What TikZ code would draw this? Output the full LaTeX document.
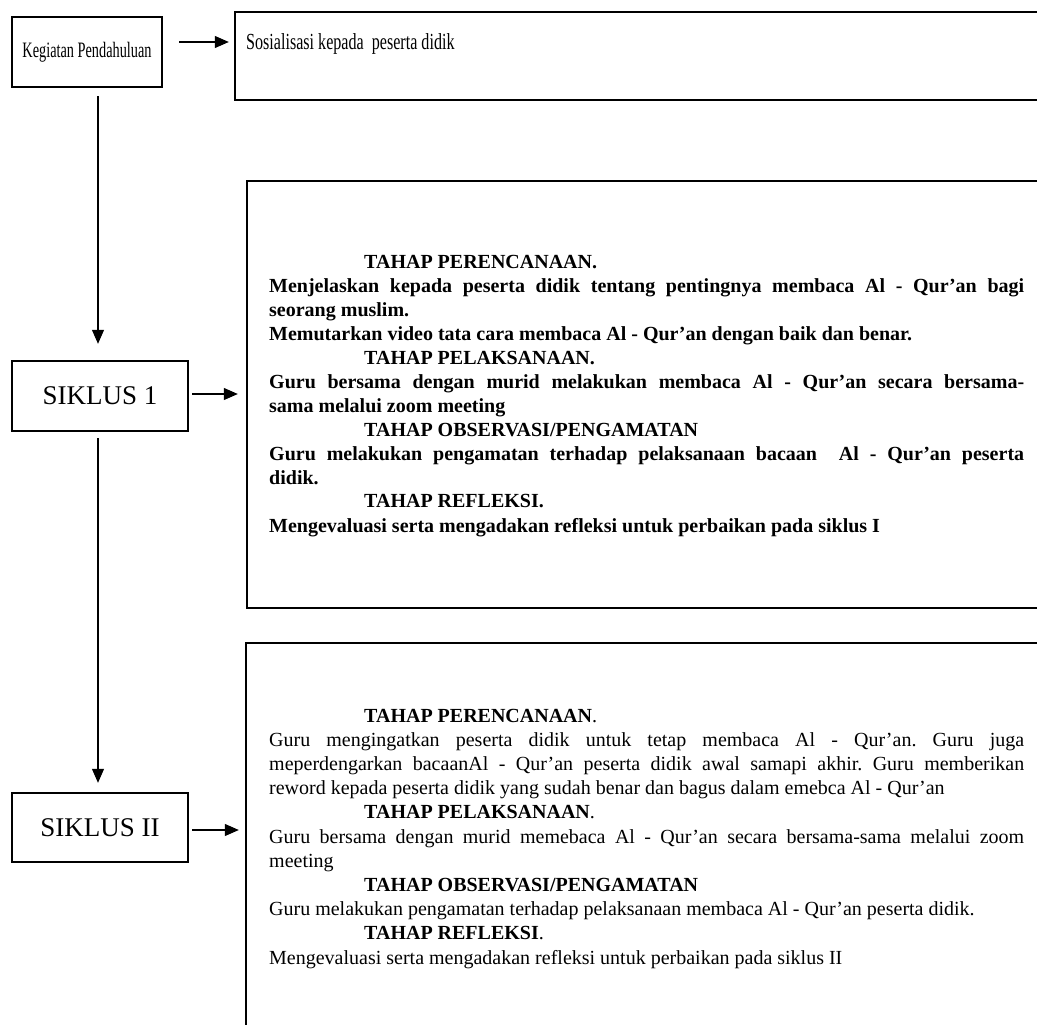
\documentclass[tikz,border=0pt]{standalone}
\usepackage{fontspec}
\setmainfont{Liberation Serif}
\newfontfamily\narrowA[FakeStretch=0.65]{Liberation Serif}
\newfontfamily\narrowB[FakeStretch=0.7]{Liberation Serif}
\usetikzlibrary{arrows.meta}
\newcommand{\jline}[1]{\makebox[\linewidth][s]{#1}\par}
\newcommand{\hd}[1]{\hspace*{95pt}#1\par}
\frenchspacing
\begin{document}
\begin{tikzpicture}[x=1pt,y=-1pt,
  box/.style={draw, line width=2.4pt, inner sep=0pt},
  arr/.style={line width=1.2pt, -{Triangle[length=14pt,width=12pt]}},
  txt/.style={anchor=base west, inner sep=0pt}]
\useasboundingbox (0,0) rectangle (1037,1025);
\clip (0,0) rectangle (1037,1025);
\fill[white] (0,0) rectangle (1037,1025);
\coordinate (vx) at (98,0);
% top row
\node[box, minimum width=150pt, minimum height=70pt,
      font=\narrowA\fontsize{22}{26}\selectfont] (A) at (87,52) {Kegiatan Pendahuluan};
\node[box, minimum width=810pt, minimum height=88pt] (B) at (640,56) {};
\node[txt, font=\narrowB\fontsize{23}{27}\selectfont] (Bt) at (246,50) {Sosialisasi kepada~~peserta didik};
% cycle boxes
\node[box, minimum width=176pt, minimum height=70pt,
      font=\fontsize{27}{30}\selectfont] (S1) at (100,396) {SIKLUS 1};
\node[box, minimum width=176pt, minimum height=69pt,
      font=\fontsize{27}{30}\selectfont] (S2) at (100,827.5) {SIKLUS II};
% big boxes
\node[box, minimum width=798pt, minimum height=427pt] (B1) at (646,394.5) {};
\node[box, minimum width=799pt, minimum height=402pt] (B2) at (645.5,844) {};
% text of box 1
\node[txt] (T1) at (269,268) {\parbox[t]{755pt}{\fontsize{20}{24}\selectfont\bfseries\setlength{\parindent}{0pt}%
\hd{TAHAP PERENCANAAN.}
\jline{Menjelaskan kepada peserta didik tentang pentingnya membaca Al - Qur’an bagi}
seorang muslim.\par
Memutarkan video tata cara membaca Al - Qur’an dengan baik dan benar.\par
\hd{TAHAP PELAKSANAAN.}
\jline{Guru bersama dengan murid melakukan membaca Al - Qur’an secara bersama-}
sama melalui zoom meeting\par
\hd{TAHAP OBSERVASI/PENGAMATAN}
\jline{Guru melakukan pengamatan terhadap pelaksanaan bacaan~ Al - Qur’an peserta}
didik.\par
\hd{TAHAP REFLEKSI.}
Mengevaluasi serta mengadakan refleksi untuk perbaikan pada siklus I\par}};
% text of box 2
\node[txt] (T2) at (269,722) {\parbox[t]{755pt}{\fontsize{20}{24.2}\selectfont\setlength{\parindent}{0pt}%
\hd{\textbf{TAHAP PERENCANAAN}.}
\jline{Guru mengingatkan peserta didik untuk tetap membaca Al - Qur’an. Guru juga}
\jline{meperdengarkan bacaanAl - Qur’an peserta didik awal samapi akhir. Guru memberikan}
reword kepada peserta didik yang sudah benar dan bagus dalam emebca Al - Qur’an\par
\hd{\textbf{TAHAP PELAKSANAAN}.}
\jline{Guru bersama dengan murid memebaca Al - Qur’an secara bersama-sama melalui zoom}
meeting\par
\hd{\textbf{TAHAP OBSERVASI/PENGAMATAN}}
Guru melakukan pengamatan terhadap pelaksanaan membaca Al - Qur’an peserta didik.\par
\hd{\textbf{TAHAP REFLEKSI}.}
Mengevaluasi serta mengadakan refleksi untuk perbaikan pada siklus II\par}};
% connectors
\draw[arr, shorten <=8pt, shorten >=16pt] (A.south -| vx) -- (S1.north -| vx);
\draw[arr, shorten <=6pt, shorten >=9pt] (S1.south -| vx) -- (S2.north -| vx);
\draw[arr, shorten <=16pt, shorten >=5pt] ([yshift=10pt]A.east) -- ([yshift=10pt]A.east -| B.west);
\draw[arr, shorten <=3pt, shorten >=8pt] ([yshift=2pt]S1.east) -- ([yshift=2pt]S1.east -| B1.west);
\draw[arr, shorten <=3pt, shorten >=6pt] ([yshift=-2.5pt]S2.east) -- ([yshift=-2.5pt]S2.east -| B2.west);
\end{tikzpicture}
\end{document}
